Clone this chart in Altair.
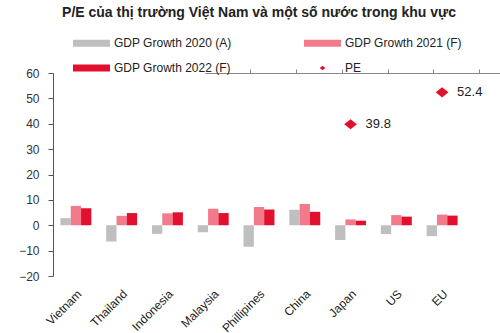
import altair as alt
import pandas as pd

countries = ["Vietnam", "Thailand", "Indonesia", "Malaysia", "Phillipines",
             "China", "Japan", "US", "EU"]
gdp_2020 = [2.8, -6.4, -3.4, -2.8, -8.5, 6.1, -5.8, -3.5, -4.3]
gdp_2021 = [7.6, 3.7, 4.7, 6.5, 7.2, 8.4, 2.3, 4.0, 4.2]
gdp_2022 = [6.7, 4.8, 5.1, 4.8, 6.2, 5.3, 1.8, 3.4, 3.8]
pe_values = [None, None, None, None, None, None, 39.8, None, 52.4]

series_names = ["GDP Growth 2020 (A)", "GDP Growth 2021 (F)", "GDP Growth 2022 (F)", "PE"]
series_colors = ["#BFBFBF", "#F27B8B", "#E1102E", "#E1102E"]
y_ticks = [-20, -10, 0, 10, 20, 30, 40, 50, 60]

RECT = "M-1,-0.19L1,-0.19L1,0.19L-1,0.19Z"
DIAMOND = "M0,-0.12L0.15,0L0,0.12L-0.15,0Z"

rows = []
for i, c in enumerate(countries):
    for s, vals in zip(series_names[:3], [gdp_2020, gdp_2021, gdp_2022]):
        rows.append({"country": c, "series": s, "value": vals[i], "label": ""})
    if pe_values[i] is not None:
        rows.append({"country": c, "series": "PE", "value": pe_values[i],
                     "label": f"{pe_values[i]:.1f}"})
df = pd.DataFrame(rows)

FONT = "Liberation Sans"

color_scale = alt.Scale(domain=series_names, range=series_colors)
shape_scale = alt.Scale(domain=series_names, range=[RECT, RECT, RECT, DIAMOND])

legend = alt.Legend(title=None, orient="none", legendX=20, legendY=-48.5, columns=2,
                    direction="horizontal",
                    columnPadding=72, rowPadding=-15, symbolSize=1369,
                    symbolStrokeWidth=0, labelFontSize=12, labelFont=FONT,
                    labelColor="#222222", padding=0, labelOffset=4)

y_enc = alt.Y("value:Q", title=None,
              scale=alt.Scale(domain=[-20, 60], nice=False, zero=False),
              axis=alt.Axis(values=y_ticks, grid=False, domainColor="#555555",
                            tickColor="#555555", tickSize=5, labelPadding=9,
                            labelFontSize=12, labelFont=FONT, labelColor="#333333"))

x_scale = alt.Scale(domain=countries, paddingInner=0, paddingOuter=0)

bars = alt.Chart(df).transform_filter("datum.series != 'PE'").mark_bar().encode(
    x=alt.X("country:N", sort=countries, scale=x_scale, title=None,
            axis=alt.Axis(labelAngle=-45, domain=False, ticks=False, labelPadding=12,
                          labelFontSize=12, labelFont=FONT, labelColor="#222222")),
    xOffset=alt.XOffset("series:N", sort=series_names[:3],
                        scale=alt.Scale(paddingInner=0, paddingOuter=0.72)),
    y=y_enc,
    color=alt.Color("series:N", scale=color_scale, legend=legend),
)

points = alt.Chart(df).transform_filter("datum.series == 'PE'").mark_point(
    filled=True, size=7200, opacity=1, strokeWidth=0
).encode(
    x=alt.X("country:N", sort=countries, scale=x_scale, title=None,
            axis=alt.Axis(position=152, bandPosition=1, labels=False, ticks=True,
                          tickSize=4, domain=True, domainColor="#888888",
                          tickColor="#888888", grid=False)),
    y=y_enc,
    color=alt.Color("series:N", scale=color_scale, legend=legend),
    shape=alt.Shape("series:N", scale=shape_scale, legend=legend),
)

labels = alt.Chart(df).transform_filter("datum.series == 'PE'").mark_text(
    align="left", baseline="middle", dx=15, fontSize=13, font=FONT, color="#222222"
).encode(
    x=alt.X("country:N", sort=countries, scale=x_scale, title=None, axis=None),
    y=y_enc,
    text="label:N",
)

chart = alt.layer(bars, points, labels).resolve_axis(x="independent").properties(
    width=412, height=203,
    title=alt.TitleParams("P/E của thị trường Việt Nam và một số nước trong khu vực",
                          fontSize=14, fontWeight="bold", font=FONT, color="#222222",
                          anchor="middle", offset=5),
    autosize=alt.AutoSizeParams(type="none"),
    padding={"left": 53, "top": 73, "right": 35, "bottom": 57},
).configure_view(stroke=None)

chart.save("out.html", embed_options={"renderer": "svg", "actions": False})
